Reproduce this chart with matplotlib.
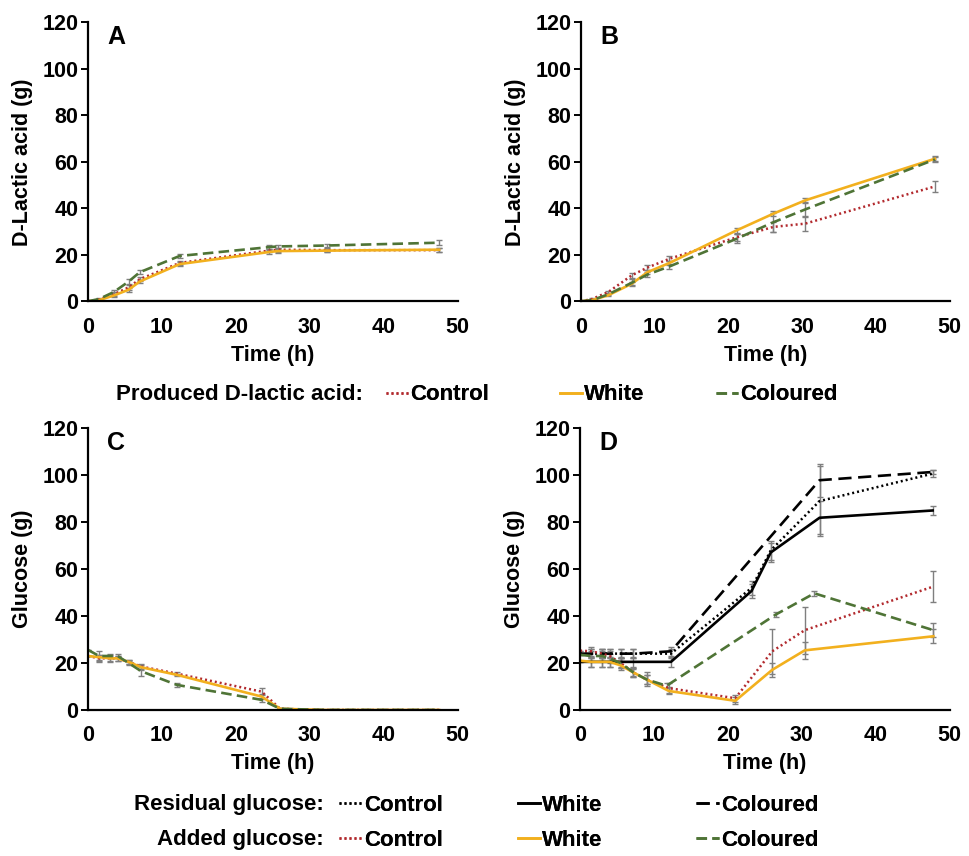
import matplotlib
matplotlib.use("Agg")
import matplotlib.pyplot as plt

plt.rcParams['font.family'] = ['Liberation Sans', 'DejaVu Sans']
plt.rcParams['font.weight'] = 'bold'

# colours
c_red = '#B22A2E'
c_gold = '#F2B01E'
c_green = '#4F7436'
c_err = '#7F7F7F'

# ---------------- Panel A: produced D-lactic acid ----------------
A_t = [0, 1.5, 3.5, 5.5, 7, 12.4, 24.5, 25.7, 32.4, 47.5]
A_ctrl = [0, 0.8, 3, 6, 9.5, 16.5, 21.8, 22.2, 22, 22]
A_ctrl_err = [0, 0.3, 0.8, 1, 0.8, 0.8, 0.8, 0.8, 0.8, 0.8]
A_white = [0, 0.5, 2.5, 5, 8.5, 16, 21.2, 21.6, 21.8, 22.2]
A_white_err = [0, 0.3, 0.5, 0.8, 0.8, 0.8, 0.8, 0.8, 0.8, 0.8]
A_col = [0, 1, 4, 8.5, 12.5, 19.5, 23.3, 23.6, 24, 25.2]
A_col_err = [0, 0.3, 0.8, 1, 0.8, 0.8, 0.8, 0.8, 0.8, 1]

# ---------------- Panel B: produced D-lactic acid ----------------
B_t = [0, 1.5, 3.7, 6.9, 9, 12, 21.1, 26.1, 30.4, 48]
B_ctrl = [0, 1, 4, 11.2, 14.5, 18.3, 27.5, 32, 33.4, 49.4]
B_ctrl_err = [0, 0.3, 0.5, 1, 1, 1, 1.5, 2, 3, 2.5]
B_white = [0, 0.5, 2.6, 7.6, 12.5, 16.5, 30.5, 37.7, 43.4, 61.3]
B_white_err = [0, 0.3, 0.5, 0.8, 0.8, 0.8, 1, 1, 1, 1]
B_col = [0, 0.5, 3, 8, 11.5, 15, 26.9, 34, 39.5, 61]
B_col_err = [0, 0.3, 0.5, 1.5, 1, 1, 2, 4, 3, 1]

# ---------------- Panel C: glucose ----------------
C_t = [0, 1.5, 3, 4, 5.5, 7.2, 12, 23.5, 26, 32, 47.5]
C_ctrl = [23, 22, 22, 22, 20.5, 18.5, 15.5, 7.8, 0.5, 0, 0]
C_ctrl_err = [0, 1.5, 1.5, 1, 1, 1, 0.5, 1.5, 0.3, 0, 0]
C_white = [23, 22.5, 22, 22, 20.5, 18.2, 15, 5.7, 0.5, 0, 0]
C_white_err = [0, 1, 1, 1, 1, 1, 0.5, 1, 0.3, 0, 0]
C_col = [25.6, 23, 23, 23, 20, 16.5, 10.7, 4.3, 0.5, 0, 0]
C_col_err = [0, 2, 1, 1, 1, 2, 1, 1, 0.3, 0, 0]

# ---------------- Panel D: residual and added glucose ----------------
Dr_t = [0, 1.5, 3, 4, 5.5, 7.2, 12.3, 23.2, 25.8, 32.4, 47.7]
Dr_ctrl = [24, 24, 24, 24, 24, 24, 24, 52, 68, 89, 100.7]
Dr_ctrl_err = [0, 2, 2, 2, 2, 2, 2, 3, 4, 15, 1.5]
Dr_white = [20.5, 20.5, 20.5, 20.5, 20.5, 20.5, 20.5, 50.7, 67.1, 81.9, 85]
Dr_white_err = [0, 2, 2, 2, 2, 2, 2, 3, 4, 7, 2]
Drc_t = [0, 1.5, 3, 4, 5.5, 7.2, 12.3, 32.4, 47.7]
Dr_col = [24, 24, 24, 24, 24, 24, 25, 97.9, 101.4]
Dr_col_err = [0, 2, 2, 2, 2, 2, 2, 7, 1]

Da_t = [0, 1.5, 3, 4, 5.5, 7.2, 9, 12, 21, 26, 30.4, 47.8]
Da_ctrl = [25.3, 25, 24, 23, 20, 16, 13, 9.3, 5, 25, 34, 52.6]
Da_ctrl_err = [0, 2, 2, 2, 2, 2, 3, 2, 1.5, 9.5, 10, 6.5]
Da_white = [21, 20.5, 20.5, 20.5, 19, 16, 13, 8.1, 3.9, 17.1, 25.4, 31.4]
Da_white_err = [0, 2, 2, 2, 2, 1.5, 2, 1.5, 1.5, 3, 3.5, 3]
Dac_t = [0, 1.5, 3, 4, 5.5, 7.2, 9, 11.7, 26.5, 31.7, 47.8]
Da_col = [23.5, 23, 23, 22, 20, 16, 13, 10.3, 40.7, 49.7, 34]
Da_col_err = [0, 2, 2, 2, 2, 2, 2, 1, 1, 1, 3]

ctrl_style = dict(color=c_red, linestyle=(0, (0.8, 1.2)), linewidth=1.8)
white_style = dict(color=c_gold, linestyle='-', linewidth=1.9)
col_style = dict(color=c_green, linestyle=(0, (4, 2)), linewidth=1.9)
err_kw = dict(ecolor=c_err, elinewidth=1.0, capsize=2, capthick=1.0)

fig = plt.figure(figsize=(9.7, 8.56), dpi=100)

axA = fig.add_axes([0.0907, 0.648, 0.381, 0.326])
axB = fig.add_axes([0.599, 0.648, 0.380, 0.326])
axC = fig.add_axes([0.0907, 0.1706, 0.381, 0.329])
axD = fig.add_axes([0.598, 0.1706, 0.381, 0.329])


def draw(ax, t, y, e, style):
    return ax.errorbar(t, y, yerr=e, **style, **err_kw)[0]


hA = [draw(axA, A_t, A_ctrl, A_ctrl_err, ctrl_style),
      draw(axA, A_t, A_white, A_white_err, white_style),
      draw(axA, A_t, A_col, A_col_err, col_style)]
draw(axB, B_t, B_ctrl, B_ctrl_err, ctrl_style)
draw(axB, B_t, B_white, B_white_err, white_style)
draw(axB, B_t, B_col, B_col_err, col_style)
draw(axC, C_t, C_ctrl, C_ctrl_err, ctrl_style)
draw(axC, C_t, C_white, C_white_err, white_style)
draw(axC, C_t, C_col, C_col_err, col_style)

hr1 = draw(axD, Dr_t, Dr_ctrl, Dr_ctrl_err, dict(ctrl_style, color='black'))
hr2 = draw(axD, Dr_t, Dr_white, Dr_white_err, dict(white_style, color='black'))
hr3 = draw(axD, Drc_t, Dr_col, Dr_col_err, dict(col_style, color='black', dashes=(5, 2.5)))
ha1 = draw(axD, Da_t, Da_ctrl, Da_ctrl_err, ctrl_style)
ha2 = draw(axD, Da_t, Da_white, Da_white_err, white_style)
ha3 = draw(axD, Dac_t, Da_col, Da_col_err, col_style)

for ax, letter, ylab in [(axA, 'A', 'D-Lactic acid (g)'), (axB, 'B', 'D-Lactic acid (g)'),
                         (axC, 'C', 'Glucose (g)'), (axD, 'D', 'Glucose (g)')]:
    ax.set_xlim(0, 50)
    ax.set_ylim(0, 120)
    ax.set_xticks(range(0, 51, 10))
    ax.set_yticks(range(0, 121, 20))
    for s in ['top', 'right']:
        ax.spines[s].set_visible(False)
    for s in ['left', 'bottom']:
        ax.spines[s].set_linewidth(1.6)
    ax.tick_params(axis='y', length=5, width=1.4, pad=2, labelsize=15.5)
    ax.tick_params(axis='x', length=0, pad=11, labelsize=15.5)
    ax.set_xlabel('Time (h)', fontsize=15.5, fontweight='bold', labelpad=5)
    ax.set_ylabel(ylab, fontsize=15.5, fontweight='bold', labelpad=7)
    ax.text(2.6, 119, letter, fontsize=18, fontweight='bold', va='top', ha='left')

# legends: one small legend per column so the columns sit at fixed spacing
leg_fs = 16
leg_kw = dict(frameon=False, fontsize=leg_fs, handlelength=1.0, handletextpad=0.1,
              borderpad=0, borderaxespad=0, loc='center left')

fig.text(0.3742, 0.5386, 'Produced D-lactic acid:', fontsize=leg_fs, fontweight='bold',
         ha='right', va='center')
top_labels = ['Control', 'White', 'Coloured']
top_x = [0.398, 0.577, 0.738]
for h, lab, x in zip(hA, top_labels, top_x):
    fig.add_artist(fig.legend([h], [lab], bbox_to_anchor=(x, 0.5386), **leg_kw))

fig.text(0.334, 0.0596, 'Residual glucose:', fontsize=leg_fs, fontweight='bold',
         ha='right', va='center')
fig.text(0.334, 0.0187, 'Added glucose:', fontsize=leg_fs, fontweight='bold',
         ha='right', va='center')
bot_x = [0.350, 0.534, 0.718]
for hr, ha, lab, x in zip([hr1, hr2, hr3], [ha1, ha2, ha3], top_labels, bot_x):
    fig.add_artist(fig.legend([hr, ha], [lab, lab], bbox_to_anchor=(x, 0.039),
                              labelspacing=0.62, **leg_kw))

fig.savefig('out.png', dpi=100)
